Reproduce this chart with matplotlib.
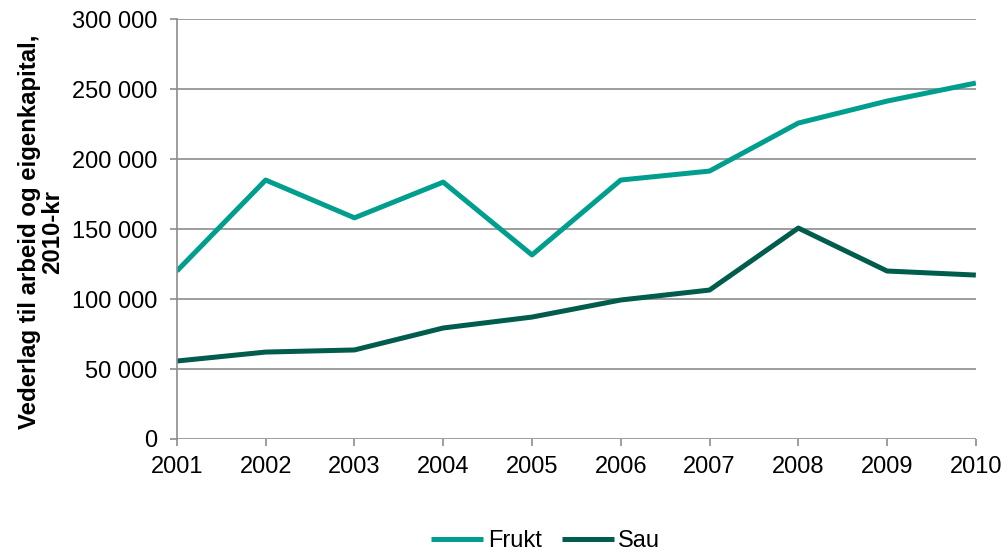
import matplotlib
matplotlib.use("Agg")
import matplotlib.pyplot as plt
from matplotlib.ticker import FuncFormatter

years = [2001, 2002, 2003, 2004, 2005, 2006, 2007, 2008, 2009, 2010]
frukt = [120000, 185000, 158000, 183500, 131500, 185000, 191400, 225700, 241400, 254300]
sau = [55700, 62100, 63600, 79300, 87100, 99300, 106400, 150700, 120000, 117100]

plt.rcParams['font.family'] = ['Liberation Sans', 'DejaVu Sans']

fig = plt.figure(figsize=(10.05, 5.54), dpi=100)
ax = fig.add_axes([0.176, 0.2076, 0.795, 0.758])

ax.plot(years, frukt, color='#009E8E', lw=3.6, label='Frukt', solid_capstyle='butt')
ax.plot(years, sau, color='#005C4C', lw=3.6, label='Sau', solid_capstyle='butt')

ax.set_xlim(2001, 2010)
ax.set_ylim(0, 300000)
ax.set_yticks(range(0, 300001, 50000))
ax.set_xticks(years)
ax.yaxis.set_major_formatter(FuncFormatter(lambda v, p: f"{int(v):,}".replace(",", " ")))
ax.grid(axis='y', color='#8c8c8c', lw=1.2)
ax.set_axisbelow(True)
for s in ['top', 'right', 'bottom']:
    ax.spines[s].set_visible(False)
ax.spines['left'].set_color('#8c8c8c')
ax.spines['left'].set_linewidth(1.2)
ax.tick_params(axis='both', colors='#8c8c8c', labelcolor='black', labelsize=17, length=5, width=1.2)
ax.tick_params(axis='y', pad=9)
ax.tick_params(axis='x', pad=7)

ax.set_ylabel('Vederlag til arbeid og eigenkapital,\n2010-kr', fontsize=17.3, fontweight='bold', linespacing=1.0)
ax.yaxis.set_label_coords(-0.141, 0.493)

fig.legend(loc='lower center', bbox_to_anchor=(0.543, -0.035), ncol=2, frameon=False, fontsize=17,
           handlelength=2.2, columnspacing=0.85, handletextpad=0.2)

fig.savefig('out.png', dpi=100)
